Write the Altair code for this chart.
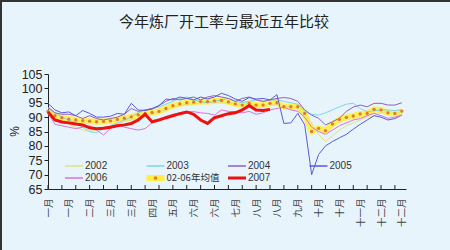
import altair as alt
import pandas as pd

title_text = "今年炼厂开工率与最近五年比较"
series_names = ["2002", "2003", "2004", "2005", "2006", "02-06年均值", "2007"]
thin_colors = ["#DCE67C", "#80D4EE", "#9060C0", "#5A5AD8", "#DD72DD"]
tick_label_weeks = list(range(1, 53, 3))
tick_labels = ["一月", "一月", "二月", "三月", "三月", "四月", "五月", "六月", "六月",
               "七月", "八月", "八月", "九月", "十月", "十月", "十一月", "十二月", "十二月"]

v2002 = [91.0, 89.5, 88.5, 87.5, 86.5, 85.5, 85.0, 85.5, 86.5, 87.0,
         87.5, 88.5, 89.0, 89.5, 90.5, 91.0, 92.0, 92.5, 93.5, 94.0,
         94.5, 94.5, 95.0, 95.0, 95.5, 95.0, 95.0, 94.5, 94.0, 94.5,
         94.0, 94.0, 94.5, 94.5, 94.0, 93.5, 93.0, 91.0, 88.0, 84.0,
         81.5, 83.5, 85.5, 87.0, 88.0, 89.0, 90.0, 90.5, 91.5, 92.0, 91.5, 91.5]
v2003 = [93.0, 91.5, 90.0, 89.0, 88.0, 86.5, 85.0, 84.5, 86.0, 87.0,
         88.0, 89.0, 90.0, 91.5, 92.5, 93.0, 93.5, 94.5, 95.5, 96.5,
         97.0, 96.0, 95.5, 95.0, 95.5, 96.0, 96.5, 95.5, 95.0, 95.5,
         96.0, 95.5, 96.0, 96.0, 95.5, 95.0, 94.5, 92.0, 91.0, 90.7,
         91.5, 92.5, 93.6, 94.5, 94.8, 93.0, 91.9, 92.2, 92.5, 92.5, 92.3, 92.5]
v2004 = [93.5, 91.5, 91.0, 91.0, 90.5, 89.5, 90.5, 89.5, 89.0, 89.5,
         90.0, 91.0, 93.0, 92.0, 92.5, 93.0, 94.0, 95.5, 96.5, 96.0,
         96.5, 97.0, 96.0, 97.0, 97.5, 97.0, 96.5, 95.5, 96.5, 97.0,
         96.0, 95.5, 96.0, 96.5, 96.8, 96.5, 95.5, 92.5, 90.7, 89.6,
         87.3, 88.4, 89.6, 92.0, 93.5, 94.2, 93.6, 94.8, 94.8, 94.2, 94.2, 95.0]
v2005 = [94.8, 92.5, 91.5, 91.8, 90.5, 92.3, 91.3, 90.0, 90.0, 90.3,
         91.3, 91.0, 94.8, 92.5, 92.3, 92.8, 94.0, 96.3, 96.0, 97.0,
         96.5, 96.0, 97.0, 96.3, 97.0, 98.3, 97.5, 96.3, 95.5, 96.8,
         96.3, 96.5, 96.0, 97.8, 87.8, 88.0, 91.3, 87.3, 70.0, 77.0,
         80.0, 81.5, 82.8, 84.0, 85.8, 87.5, 89.0, 90.5, 90.0, 89.0, 89.5, 90.7]
v2006 = [91.5, 87.5, 87.0, 86.5, 86.0, 86.5, 87.0, 85.5, 83.8, 86.0,
         87.5, 86.5, 86.0, 85.5, 86.0, 88.0, 89.0, 90.2, 91.0, 91.5,
         92.0, 91.9, 91.5, 91.3, 90.7, 92.5, 92.0, 91.9, 91.5, 92.0,
         91.0, 91.5, 92.5, 93.0, 93.5, 92.5, 92.0, 90.0, 86.5, 85.0,
         84.0, 85.5, 87.0, 88.0, 89.0, 89.5, 90.5, 91.3, 90.5, 89.6, 90.0, 90.7]
v_avg = [92.0, 90.5, 89.8, 89.3, 89.0, 88.8, 88.6, 88.4, 88.5, 88.7,
         89.2, 89.6, 90.1, 90.8, 91.3, 91.6, 92.0, 93.0, 94.0, 94.6,
         95.0, 95.2, 95.4, 95.4, 95.6, 95.8, 95.3, 94.6, 94.2, 94.8,
         94.2, 94.2, 94.8, 95.0, 93.6, 93.6, 93.6, 91.3, 85.0, 86.1,
         85.3, 87.6, 89.2, 89.9, 90.4, 91.1, 91.3, 92.7, 92.5, 91.5, 91.3, 92.1]
v2007 = [91.8, 89.0, 88.3, 88.0, 87.6, 87.3, 86.3, 86.0, 86.1, 86.5,
         87.0, 87.3, 87.8, 89.0, 91.0, 88.4, 89.0, 89.8, 90.5, 91.2,
         91.8, 91.0, 89.0, 87.8, 89.8, 90.5, 91.2, 91.5, 92.5, 94.0,
         92.5, 92.3, 92.7]

all_values = [v2002, v2003, v2004, v2005, v2006, v_avg, v2007]
rows = []
for name, vals in zip(series_names, all_values):
    for i, v in enumerate(vals):
        rows.append({"week": i + 1, "series": name, "value": v})
df = pd.DataFrame(rows)

W, H = 358, 115
BG = "#E8F4FB"
CJK = "Noto Sans CJK SC"
LAT = "Liberation Sans"

label_array = "[" + ",".join("'" + t + "'" for t in tick_labels) + "]"
x_enc = alt.X("week:Q",
              scale=alt.Scale(domain=[1, 52.6], nice=False, zero=False),
              axis=alt.Axis(values=tick_label_weeks,
                            labelExpr=label_array + "[round((datum.value-1)/3)]",
                            labelAngle=270, labelFont=CJK, labelFontSize=9.5,
                            labelColor="#444", labelPadding=9, ticks=False,
                            grid=False, title=None, domainColor="#222",
                            labelOverlap=False))
y_enc = alt.Y("value:Q",
              scale=alt.Scale(domain=[65, 105], nice=False, zero=False),
              axis=alt.Axis(values=list(range(65, 106, 5)), grid=False,
                            title="%", titleFont=LAT, titleFontSize=12,
                            titleFontWeight="normal", titleColor="#222",
                            titleAngle=270, titleX=-34, titleY=57,
                            titleAlign="center", titleBaseline="middle",
                            labelFont=LAT, labelFontSize=12.5, labelColor="#222",
                            tickSize=4, tickColor="#222", domainColor="#222",
                            labelPadding=2))

base = alt.Chart(df).encode(x=x_enc, y=y_enc)

avg_band = base.transform_filter(alt.datum.series == "02-06年均值").mark_line(
    color="#FFEE44", strokeWidth=6, opacity=0.9)
thin = base.transform_filter(
    alt.FieldOneOfPredicate(field="series", oneOf=series_names[:5])
).mark_line(strokeWidth=1).encode(
    color=alt.Color("series:N", scale=alt.Scale(domain=series_names[:5], range=thin_colors),
                    legend=None))
avg_dots = base.transform_filter(alt.datum.series == "02-06年均值").mark_circle(
    size=11, color="#E37A32", opacity=1)
red = base.transform_filter(alt.datum.series == "2007").mark_line(
    color="#EE1111", strokeWidth=3)

ticks = alt.Chart(pd.DataFrame({"week": list(range(1, 53, 2))})).mark_rule(
    color="#222", strokeWidth=1).encode(x=x_enc, y=alt.value(H), y2=alt.value(H - 4))

layers = [avg_band, thin, avg_dots, red, ticks]

# legend drawn inside the plot
styles = {
    "2002": dict(color=thin_colors[0], w=1.5),
    "2003": dict(color=thin_colors[1], w=1.5),
    "2004": dict(color=thin_colors[2], w=1.5),
    "2005": dict(color=thin_colors[3], w=1.5),
    "2006": dict(color=thin_colors[4], w=1.5),
    "02-06年均值": dict(color="#FFEE44", w=6),
    "2007": dict(color="#EE1111", w=3),
}
for i, name in enumerate(series_names):
    col, row = i % 4, i // 4
    lx = 17 + col * 81.5
    ly = 92 + row * 12
    one = alt.Data(values=[{"name": name}])
    st = styles[name]
    layers.append(alt.Chart(one).mark_rule(color=st["color"], strokeWidth=st["w"]).encode(
        x=alt.value(lx), x2=alt.value(lx + 18), y=alt.value(ly)))
    if name == "02-06年均值":
        layers.append(alt.Chart(one).mark_circle(size=14, color="#E37A32", opacity=1).encode(
            x=alt.value(lx + 9), y=alt.value(ly)))
    layers.append(alt.Chart(one).mark_text(
        align="left", baseline="middle", fontSize=9.5 if "年" in name else 10,
        font=CJK if "年" in name else LAT, color="#333").encode(
        x=alt.value(lx + 20), y=alt.value(ly), text="name:N"))

# chart title as text
layers.append(alt.Chart(alt.Data(values=[{"t": title_text}])).mark_text(
    align="center", baseline="middle", font=CJK, fontSize=15, color="#222").encode(
    x=alt.value(176), y=alt.value(-52), text="t:N"))

# outer frame lines (top and left)
frame = alt.Data(values=[{"k": 1}])
layers.append(alt.Chart(frame).mark_rule(color="#333", strokeWidth=2).encode(
    x=alt.value(-48), x2=alt.value(402), y=alt.value(-73)))
layers.append(alt.Chart(frame).mark_rule(color="#333", strokeWidth=2).encode(
    x=alt.value(-47), y=alt.value(-74), y2=alt.value(176)))

chart = alt.layer(*layers).properties(
    width=W, height=H,
    background=BG,
    autosize=alt.AutoSizeParams(type="none"),
    padding={"left": 48, "top": 74, "right": 44, "bottom": 61},
).configure_view(stroke=None)

chart.save("out.html", embed_options={"renderer": "svg", "actions": False})
